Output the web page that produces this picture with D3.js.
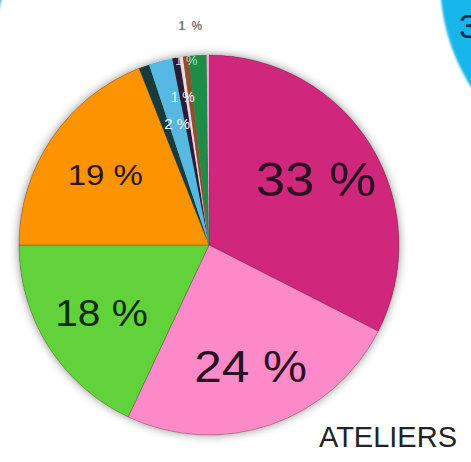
<!DOCTYPE html>
<html><head><meta charset="utf-8">
<script src="https://cdn.jsdelivr.net/npm/d3@7"></script>
<style>body{margin:0;background:#fff}svg{display:block}</style>
</head><body>
<svg id="c" width="471" height="462"></svg>
<script>
const categories = ["A","B","C","D","E","F","G","H","I","J","K"];
const values = [32.5, 24.5, 18, 19, 0.9, 2.0, 0.6, 0.3, 0.5, 1.5, 0.2];
const colors = ["#d0267c","#fc8ac8","#62d23a","#fb9400","#173c3a","#56b9e1","#2a1d3c","#f2d6dc","#8c5230","#1e8c46","#f7a6d2"];
const labels = ["33 %","24 %","18 %","19 %","","2 %","1 %","","1 %","",""];
const labelSize = [48,45,37,30,0,15,14,0,13,0,0];
const labelColor = ["#2a0f22","#2a0f22","#0f2a0a","#2a1505","","#f4f8ff","#e8f4ff","","#d8f0e0","",""];
const labelRadius = [0.66,0.675,0.67,0.66,0,0.66,0.79,0,0.98,0,0];
const outerLabel = "1 %";
const title = "ATELIERS";

const svg = d3.select("#c");
const defs = svg.append("defs");
const f = defs.append("filter").attr("id","sh").attr("x","-20%").attr("y","-20%").attr("width","140%").attr("height","140%");
f.append("feDropShadow").attr("dx",0).attr("dy",0).attr("stdDeviation",5).attr("flood-color","#000").attr("flood-opacity",0.45);

const fc = defs.append("filter").attr("id","glow");
fc.append("feGaussianBlur").attr("stdDeviation",1.2);
svg.append("circle").attr("cx",640).attr("cy",-20).attr("r",200).attr("fill","#18b6ea").attr("filter","url(#glow)");
svg.append("text").attr("x",459).attr("y",38).attr("font-family","Liberation Sans, Arial, sans-serif")
  .attr("font-size",34).attr("fill","#1a2a50").text("3");
svg.append("circle").attr("cx",-192).attr("cy",-50).attr("r",200).attr("fill","#2a88d8").attr("opacity",0.75).attr("filter","url(#glow)");

const cx = 209, cy = 245, R = 190;
const g = svg.append("g").attr("transform",`translate(${cx},${cy})`);
const pie = d3.pie().sort(null).value(d=>d)(values);
const arc = d3.arc().innerRadius(0).outerRadius(R);
g.append("circle").attr("r",R).attr("fill","#888").attr("filter","url(#sh)");
g.selectAll("path").data(pie).join("path")
  .attr("d",arc).attr("fill",(d,i)=>colors[i])
  .attr("stroke",(d,i)=>i<4?"rgba(60,30,20,0.35)":"none").attr("stroke-width",0.8);

const lab = pie.map((d,i)=>({d,i})).filter(o=>labels[o.i]!=="");
g.selectAll("text.l").data(lab).join("text").attr("class","l")
  .attr("transform",o=>{const a=(o.d.startAngle+o.d.endAngle)/2;const r=R*labelRadius[o.i];return `translate(${Math.sin(a)*r},${-Math.cos(a)*r}) scale(${o.i<4?1.1:1},1)`;})
  .attr("text-anchor","middle").attr("dominant-baseline","central")
  .attr("font-family","Liberation Sans, Arial, sans-serif")
  .attr("font-size",o=>labelSize[o.i]).attr("fill",o=>labelColor[o.i])
  .attr("opacity",o=>o.i===8?0.8:1)
  .text(o=>labels[o.i]);

svg.append("text").attr("x",191).attr("y",30).attr("text-anchor","middle")
  .attr("font-family","Liberation Sans, Arial, sans-serif").attr("font-weight","bold")
  .attr("font-size",12).attr("letter-spacing",1.5).attr("fill","#777").text(outerLabel);

svg.append("text").attr("x",457).attr("y",447).attr("text-anchor","end")
  .attr("font-family","Liberation Sans, Arial, sans-serif")
  .attr("font-size",29).attr("fill","#222").text(title);
</script>
</body></html>
